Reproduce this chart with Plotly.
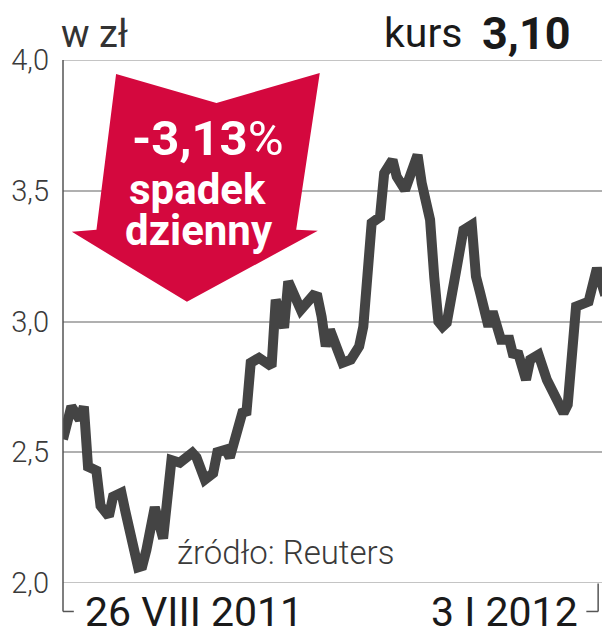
import plotly.graph_objects as go

# ---- data ----
dates = [
    "2011-08-26", "2011-08-28", "2011-08-30", "2011-08-31", "2011-09-01", "2011-09-03",
    "2011-09-04", "2011-09-06", "2011-09-07", "2011-09-09", "2011-09-10", "2011-09-13",
    "2011-09-14", "2011-09-15", "2011-09-17", "2011-09-19", "2011-09-21", "2011-09-23",
    "2011-09-26", "2011-09-27", "2011-09-29", "2011-10-01", "2011-10-02", "2011-10-04",
    "2011-10-05", "2011-10-07", "2011-10-08", "2011-10-09", "2011-10-10", "2011-10-12",
    "2011-10-15", "2011-10-16", "2011-10-18", "2011-10-19", "2011-10-22", "2011-10-25",
    "2011-10-26", "2011-10-27", "2011-10-28", "2011-10-29", "2011-10-30", "2011-11-01",
    "2011-11-03", "2011-11-05", "2011-11-06", "2011-11-07", "2011-11-08", "2011-11-10",
    "2011-11-11", "2011-11-13", "2011-11-14", "2011-11-16", "2011-11-17", "2011-11-19",
    "2011-11-20", "2011-11-22", "2011-11-23", "2011-11-24", "2011-11-25", "2011-11-26",
    "2011-11-28", "2011-11-30", "2011-12-02", "2011-12-03", "2011-12-04", "2011-12-06",
    "2011-12-07", "2011-12-09", "2011-12-11", "2011-12-12", "2011-12-13", "2011-12-15",
    "2011-12-16", "2011-12-18", "2011-12-20", "2011-12-22", "2011-12-24", "2011-12-25",
    "2011-12-26", "2011-12-27", "2011-12-30", "2012-01-01", "2012-01-03",
]
kurs = [
    2.55, 2.675, 2.625, 2.675, 2.445, 2.43,
    2.295, 2.255, 2.33, 2.345, 2.27, 2.06,
    2.065, 2.127, 2.29, 2.17, 2.47, 2.46,
    2.498, 2.48, 2.395, 2.42, 2.50, 2.51,
    2.48, 2.613, 2.651, 2.656, 2.842, 2.861,
    2.828, 3.083, 2.976, 3.153, 3.045, 3.10,
    3.095, 3.018, 2.905, 2.968, 2.93, 2.842,
    2.854, 2.905, 2.981, 3.186, 3.377, 3.40,
    3.567, 3.618, 3.554, 3.503, 3.554, 3.637,
    3.529, 3.389, 3.17, 3.0, 2.98, 2.995,
    3.172, 3.35, 3.37, 3.172, 3.11, 2.981,
    3.038, 2.93, 2.93, 2.866, 2.885, 2.777,
    2.854, 2.873, 2.777, 2.713, 2.65, 2.682,
    2.943, 3.057, 3.076, 3.204, 3.10,
]
y_ticks = [2.0, 2.5, 3.0, 3.5, 4.0]
y_tick_labels = ["2,0", "2,5", "3,0", "3,5", "4,0"]

# ---- layout geometry helpers (page has an 8px body margin) ----
OFF = 8
W, H = 610 - OFF, 640 - OFF
PLOT_L, PLOT_R, PLOT_T, PLOT_B = 54, 607, 60, 583.5   # in window pixels
L = PLOT_L - OFF
T = PLOT_T - OFF
R = W - (PLOT_R - OFF)
B = H - (PLOT_B - OFF)
PW, PH = W - L - R, H - T - B

def px(x, y):
    """window pixel -> paper coordinates"""
    return (x - PLOT_L) / PW, (PLOT_B - y) / PH

FONT = "Roboto"
TXT = "#333333"
GRID = "#b0b0b0"

fig = go.Figure()
fig.add_trace(go.Scatter(
    x=dates, y=kurs, mode="lines",
    line=dict(color="#444444", width=10),
    hoverinfo="skip", showlegend=False,
))

shapes = []
# edge gridlines (2.0 and 4.0)
for v in (y_ticks[0], y_ticks[-1]):
    shapes.append(dict(type="line", xref="paper", yref="y", x0=0, x1=1, y0=v, y1=v,
                       line=dict(color=GRID, width=1.5), layer="below"))
# red arrow
arrow_px = [(108, 74), (210, 103), (315, 73), (291, 230), (313, 231),
            (180, 302), (63, 232), (88, 230)]
pts = [px(a, b) for a, b in arrow_px]
path = "M " + " L ".join(f"{a:.4f},{b:.4f}" for a, b in pts) + " Z"
shapes.append(dict(type="path", path=path, xref="paper", yref="paper",
                   fillcolor="#d4083e", line=dict(width=0), layer="above"))

def seg(xa, ya, xb, yb):
    a = px(xa, ya)
    b = px(xb, yb)
    return dict(type="line", xref="paper", yref="paper", x0=a[0], y0=a[1], x1=b[0], y1=b[1],
                line=dict(color="#555555", width=1.5))

# brackets
shapes += [seg(54, 60, 54, 612), seg(54, 612, 65, 612),
           seg(598, 584, 598, 612), seg(598, 612, 586, 612)]

def ann(text, x, y, size, xanchor="left", color=TXT, weight=None, family=FONT):
    ax, ay = px(x, y)
    f = dict(family=family, size=size, color=color)
    if weight:
        f["weight"] = weight
    return dict(text=text, x=ax, y=ay, xref="paper", yref="paper", showarrow=False,
                xanchor=xanchor, yanchor="middle", font=f)

annotations = [
    ann("w zł", 50, 34, 38),
    ann("kurs", 462, 33, 41, xanchor="right", color="#1a1a1a"),
    ann("<b>3,10</b>", 478, 33, 45, color="#1a1a1a"),
    ann("<b>-3,13</b>%", 201, 139, 49, xanchor="center", color="white"),
    ann("<b>spadek</b>", 191, 190, 42, xanchor="center", color="white"),
    ann("<b>dzienny</b>", 192, 231, 42, xanchor="center", color="white"),
    ann("źródło: Reuters", 168, 553, 33, color="#3a3a3a", weight=300),
    ann("26 VIII 2011", 74, 613, 41, color="#1a1a1a"),
    ann("3 I 2012", 580, 613, 41, xanchor="right", color="#1a1a1a"),
]

fig.update_layout(
    width=W, height=H,
    margin=dict(l=L, r=R, t=T, b=B, pad=0),
    paper_bgcolor="white", plot_bgcolor="white",
    shapes=shapes, annotations=annotations,
    xaxis=dict(range=["2011-08-26", "2012-01-03 10:00"], showgrid=False,
               showticklabels=False, ticks="", zeroline=False, showline=False),
    yaxis=dict(range=[2.0, 4.0], tickvals=y_ticks, ticktext=y_tick_labels,
               showgrid=True, gridcolor=GRID, gridwidth=1.5,
               zeroline=False, showline=False, ticks="",
               ticklabelstandoff=13,
               tickfont=dict(family=FONT, size=29, color="#3a3a3a", weight=300)),
)

fig.write_html("out.html")
